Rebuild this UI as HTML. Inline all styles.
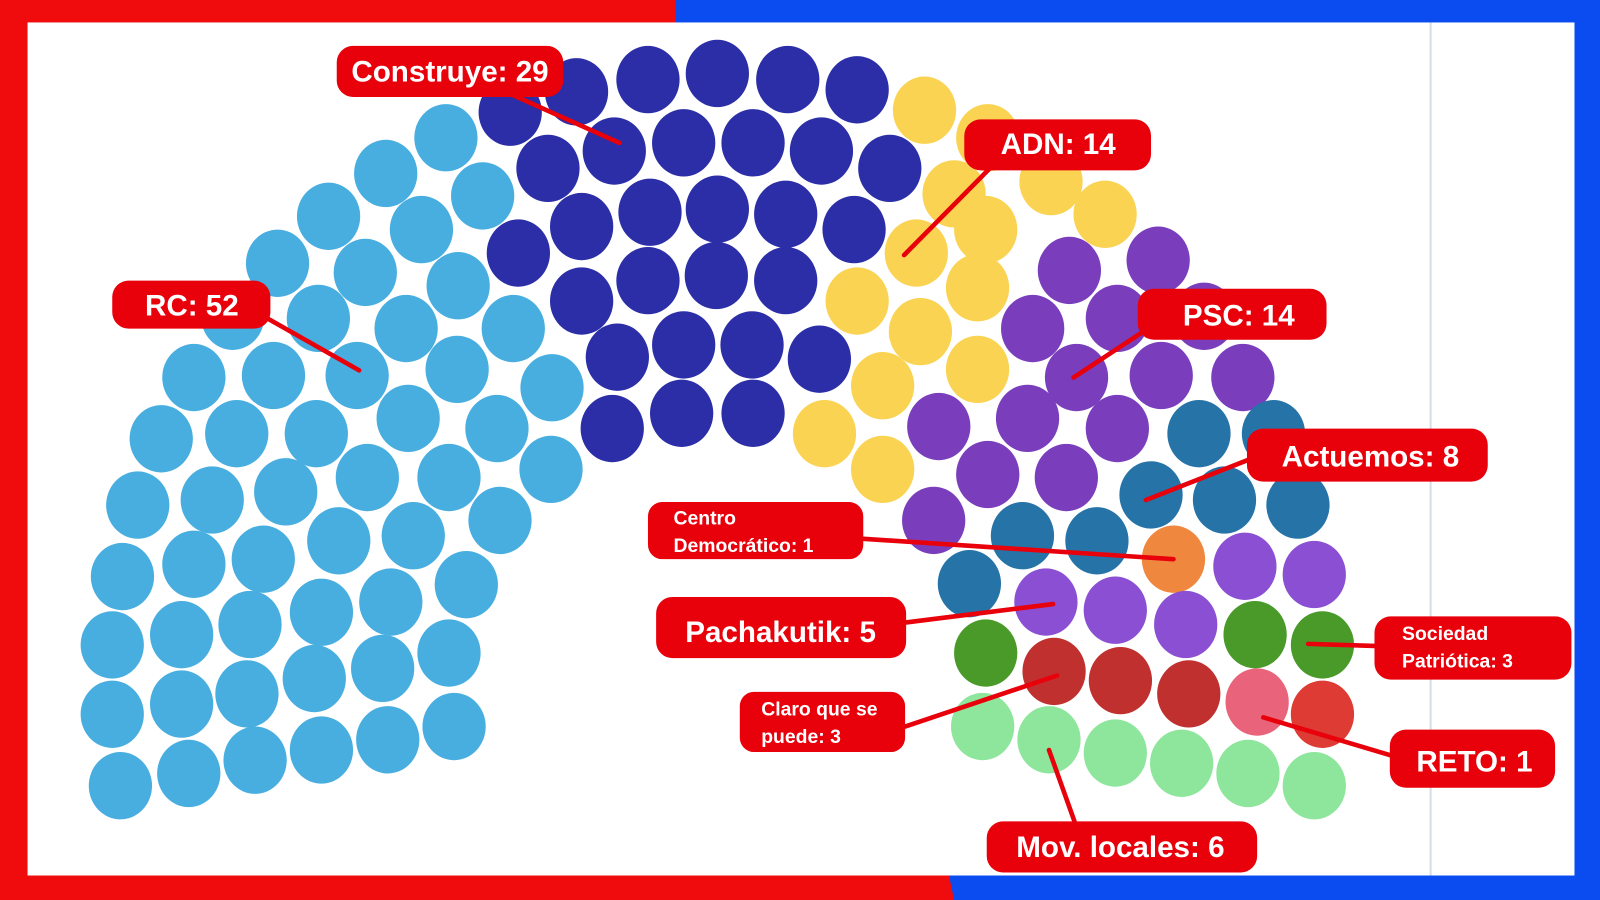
<!DOCTYPE html>
<html><head><meta charset="utf-8"><style>
html,body{margin:0;padding:0;width:1600px;height:900px;overflow:hidden;background:#fff}
svg{display:block}
text{font-family:"Liberation Sans",sans-serif;font-weight:bold;fill:#fff}
</style></head><body>
<svg width="1600" height="900" viewBox="0 0 1568 882" preserveAspectRatio="none">
<rect x="0" y="0" width="1568" height="882" fill="#0a4cf0"/>
<polygon points="0,0 662,0 662,22 27,22 27,858 930,858 935,882 0,882" fill="#f00c0c"/>
<rect x="27" y="22" width="1516" height="836" fill="#fff"/>
<line x1="1402" y1="22" x2="1402" y2="858" stroke="#d5dde8" stroke-width="2"/>
<g fill="#48aee0">
<ellipse cx="437" cy="135" rx="31" ry="33"/><ellipse cx="378" cy="170" rx="31" ry="33"/><ellipse cx="473" cy="192" rx="31" ry="33"/><ellipse cx="322" cy="212" rx="31" ry="33"/><ellipse cx="413" cy="225" rx="31" ry="33"/><ellipse cx="272" cy="258" rx="31" ry="33"/><ellipse cx="358" cy="267" rx="31" ry="33"/><ellipse cx="449" cy="280" rx="31" ry="33"/><ellipse cx="228" cy="310" rx="31" ry="33"/><ellipse cx="312" cy="312" rx="31" ry="33"/><ellipse cx="398" cy="322" rx="31" ry="33"/><ellipse cx="503" cy="322" rx="31" ry="33"/><ellipse cx="190" cy="370" rx="31" ry="33"/><ellipse cx="268" cy="368" rx="31" ry="33"/><ellipse cx="350" cy="368" rx="31" ry="33"/><ellipse cx="448" cy="362" rx="31" ry="33"/><ellipse cx="541" cy="380" rx="31" ry="33"/><ellipse cx="158" cy="430" rx="31" ry="33"/><ellipse cx="232" cy="425" rx="31" ry="33"/><ellipse cx="310" cy="425" rx="31" ry="33"/><ellipse cx="400" cy="410" rx="31" ry="33"/><ellipse cx="487" cy="420" rx="31" ry="33"/><ellipse cx="135" cy="495" rx="31" ry="33"/><ellipse cx="208" cy="490" rx="31" ry="33"/><ellipse cx="280" cy="482" rx="31" ry="33"/><ellipse cx="360" cy="468" rx="31" ry="33"/><ellipse cx="440" cy="468" rx="31" ry="33"/><ellipse cx="540" cy="460" rx="31" ry="33"/><ellipse cx="120" cy="565" rx="31" ry="33"/><ellipse cx="190" cy="553" rx="31" ry="33"/><ellipse cx="258" cy="548" rx="31" ry="33"/><ellipse cx="332" cy="530" rx="31" ry="33"/><ellipse cx="405" cy="525" rx="31" ry="33"/><ellipse cx="490" cy="510" rx="31" ry="33"/><ellipse cx="110" cy="632" rx="31" ry="33"/><ellipse cx="178" cy="622" rx="31" ry="33"/><ellipse cx="245" cy="612" rx="31" ry="33"/><ellipse cx="315" cy="600" rx="31" ry="33"/><ellipse cx="383" cy="590" rx="31" ry="33"/><ellipse cx="457" cy="573" rx="31" ry="33"/><ellipse cx="110" cy="700" rx="31" ry="33"/><ellipse cx="178" cy="690" rx="31" ry="33"/><ellipse cx="242" cy="680" rx="31" ry="33"/><ellipse cx="308" cy="665" rx="31" ry="33"/><ellipse cx="375" cy="655" rx="31" ry="33"/><ellipse cx="440" cy="640" rx="31" ry="33"/><ellipse cx="118" cy="770" rx="31" ry="33"/><ellipse cx="185" cy="758" rx="31" ry="33"/><ellipse cx="250" cy="745" rx="31" ry="33"/><ellipse cx="315" cy="735" rx="31" ry="33"/><ellipse cx="380" cy="725" rx="31" ry="33"/><ellipse cx="445" cy="712" rx="31" ry="33"/>
</g>
<g fill="#2b2ea6">
<ellipse cx="500" cy="110" rx="31" ry="33"/><ellipse cx="565" cy="90" rx="31" ry="33"/><ellipse cx="635" cy="78" rx="31" ry="33"/><ellipse cx="703" cy="72" rx="31" ry="33"/><ellipse cx="772" cy="78" rx="31" ry="33"/><ellipse cx="840" cy="88" rx="31" ry="33"/><ellipse cx="537" cy="165" rx="31" ry="33"/><ellipse cx="602" cy="148" rx="31" ry="33"/><ellipse cx="670" cy="140" rx="31" ry="33"/><ellipse cx="738" cy="140" rx="31" ry="33"/><ellipse cx="805" cy="148" rx="31" ry="33"/><ellipse cx="872" cy="165" rx="31" ry="33"/><ellipse cx="508" cy="248" rx="31" ry="33"/><ellipse cx="570" cy="222" rx="31" ry="33"/><ellipse cx="637" cy="208" rx="31" ry="33"/><ellipse cx="703" cy="205" rx="31" ry="33"/><ellipse cx="770" cy="210" rx="31" ry="33"/><ellipse cx="837" cy="225" rx="31" ry="33"/><ellipse cx="570" cy="295" rx="31" ry="33"/><ellipse cx="635" cy="275" rx="31" ry="33"/><ellipse cx="702" cy="270" rx="31" ry="33"/><ellipse cx="770" cy="275" rx="31" ry="33"/><ellipse cx="605" cy="350" rx="31" ry="33"/><ellipse cx="670" cy="338" rx="31" ry="33"/><ellipse cx="737" cy="338" rx="31" ry="33"/><ellipse cx="803" cy="352" rx="31" ry="33"/><ellipse cx="600" cy="420" rx="31" ry="33"/><ellipse cx="668" cy="405" rx="31" ry="33"/><ellipse cx="738" cy="405" rx="31" ry="33"/>
</g>
<g fill="#fad352">
<ellipse cx="906" cy="108" rx="31" ry="33"/><ellipse cx="968" cy="135" rx="31" ry="33"/><ellipse cx="935" cy="190" rx="31" ry="33"/><ellipse cx="1030" cy="178" rx="31" ry="33"/><ellipse cx="1083" cy="210" rx="31" ry="33"/><ellipse cx="966" cy="225" rx="31" ry="33"/><ellipse cx="898" cy="248" rx="31" ry="33"/><ellipse cx="840" cy="295" rx="31" ry="33"/><ellipse cx="958" cy="282" rx="31" ry="33"/><ellipse cx="902" cy="325" rx="31" ry="33"/><ellipse cx="865" cy="378" rx="31" ry="33"/><ellipse cx="958" cy="362" rx="31" ry="33"/><ellipse cx="808" cy="425" rx="31" ry="33"/><ellipse cx="865" cy="460" rx="31" ry="33"/>
</g>
<g fill="#7a3ebd">
<ellipse cx="1048" cy="265" rx="31" ry="33"/><ellipse cx="1135" cy="255" rx="31" ry="33"/><ellipse cx="1012" cy="322" rx="31" ry="33"/><ellipse cx="1095" cy="312" rx="31" ry="33"/><ellipse cx="1180" cy="310" rx="31" ry="33"/><ellipse cx="1055" cy="370" rx="31" ry="33"/><ellipse cx="1138" cy="368" rx="31" ry="33"/><ellipse cx="1218" cy="370" rx="31" ry="33"/><ellipse cx="920" cy="418" rx="31" ry="33"/><ellipse cx="1007" cy="410" rx="31" ry="33"/><ellipse cx="1095" cy="420" rx="31" ry="33"/><ellipse cx="968" cy="465" rx="31" ry="33"/><ellipse cx="1045" cy="468" rx="31" ry="33"/><ellipse cx="915" cy="510" rx="31" ry="33"/>
</g>
<g fill="#2673a8">
<ellipse cx="1175" cy="425" rx="31" ry="33"/><ellipse cx="1248" cy="425" rx="31" ry="33"/><ellipse cx="1128" cy="485" rx="31" ry="33"/><ellipse cx="1200" cy="490" rx="31" ry="33"/><ellipse cx="1272" cy="495" rx="31" ry="33"/><ellipse cx="1002" cy="525" rx="31" ry="33"/><ellipse cx="1075" cy="530" rx="31" ry="33"/><ellipse cx="950" cy="572" rx="31" ry="33"/>
</g>
<ellipse cx="1150" cy="548" rx="31" ry="33" fill="#f0873e"/>
<g fill="#8b4fd3">
<ellipse cx="1025" cy="590" rx="31" ry="33"/><ellipse cx="1093" cy="598" rx="31" ry="33"/><ellipse cx="1162" cy="612" rx="31" ry="33"/><ellipse cx="1220" cy="555" rx="31" ry="33"/><ellipse cx="1288" cy="563" rx="31" ry="33"/>
</g>
<g fill="#4a9a2a">
<ellipse cx="966" cy="640" rx="31" ry="33"/><ellipse cx="1230" cy="622" rx="31" ry="33"/><ellipse cx="1296" cy="632" rx="31" ry="33"/>
</g>
<g fill="#c0302f">
<ellipse cx="1033" cy="658" rx="31" ry="33"/><ellipse cx="1098" cy="667" rx="31" ry="33"/><ellipse cx="1165" cy="680" rx="31" ry="33"/>
</g>
<ellipse cx="1232" cy="688" rx="31" ry="33" fill="#e9637a"/>
<ellipse cx="1296" cy="700" rx="31" ry="33" fill="#dd3b34"/>
<g fill="#8ee69c">
<ellipse cx="963" cy="712" rx="31" ry="33"/><ellipse cx="1028" cy="725" rx="31" ry="33"/><ellipse cx="1093" cy="738" rx="31" ry="33"/><ellipse cx="1158" cy="748" rx="31" ry="33"/><ellipse cx="1223" cy="758" rx="31" ry="33"/><ellipse cx="1288" cy="770" rx="31" ry="33"/>
</g>
<g stroke="#e8000b" stroke-width="4.5" stroke-linecap="round">
<line x1="500" y1="92" x2="607" y2="140"/><line x1="970" y1="165" x2="886" y2="250"/><line x1="262" y1="312" x2="352" y2="363"/><line x1="1125" y1="322" x2="1052" y2="370"/><line x1="1225" y1="450" x2="1123" y2="490"/><line x1="846" y1="528" x2="1150" y2="548"/><line x1="888" y1="610" x2="1032" y2="592"/><line x1="1282" y1="631" x2="1347" y2="633"/><line x1="887" y1="712" x2="1036" y2="662"/><line x1="1238" y1="703" x2="1362" y2="740"/><line x1="1028" y1="735" x2="1053" y2="805"/>
</g>
<g fill="#e8000b">
<rect x="330" y="45" width="222" height="50" rx="16"/><rect x="945" y="117" width="183" height="50" rx="16"/><rect x="110" y="275" width="155" height="47" rx="16"/><rect x="1115" y="283" width="185" height="50" rx="16"/><rect x="1222" y="420" width="236" height="52" rx="16"/><rect x="635" y="492" width="211" height="56" rx="14"/><rect x="643" y="585" width="245" height="60" rx="16"/><rect x="1347" y="604" width="193" height="62" rx="16"/><rect x="725" y="678" width="162" height="59" rx="14"/><rect x="1362" y="715" width="162" height="57" rx="16"/><rect x="967" y="805" width="265" height="50" rx="16"/>
</g>
<g font-size="29" text-anchor="middle">
<text x="441" y="80">Construye: 29</text>
<text x="1037" y="151">ADN: 14</text>
<text x="188" y="309">RC: 52</text>
<text x="1214" y="319">PSC: 14</text>
<text x="1343" y="457">Actuemos: 8</text>
<text x="765" y="629">Pachakutik: 5</text>
<text x="1445" y="756">RETO: 1</text>
<text x="1098" y="840">Mov. locales: 6</text>
</g>
<g font-size="19">
<text x="660" y="514">Centro</text><text x="660" y="541">Democrático: 1</text>
<text x="1374" y="627">Sociedad</text><text x="1374" y="654">Patriótica: 3</text>
<text x="746" y="701">Claro que se</text><text x="746" y="728">puede: 3</text>
</g>
</svg>
</body></html>
